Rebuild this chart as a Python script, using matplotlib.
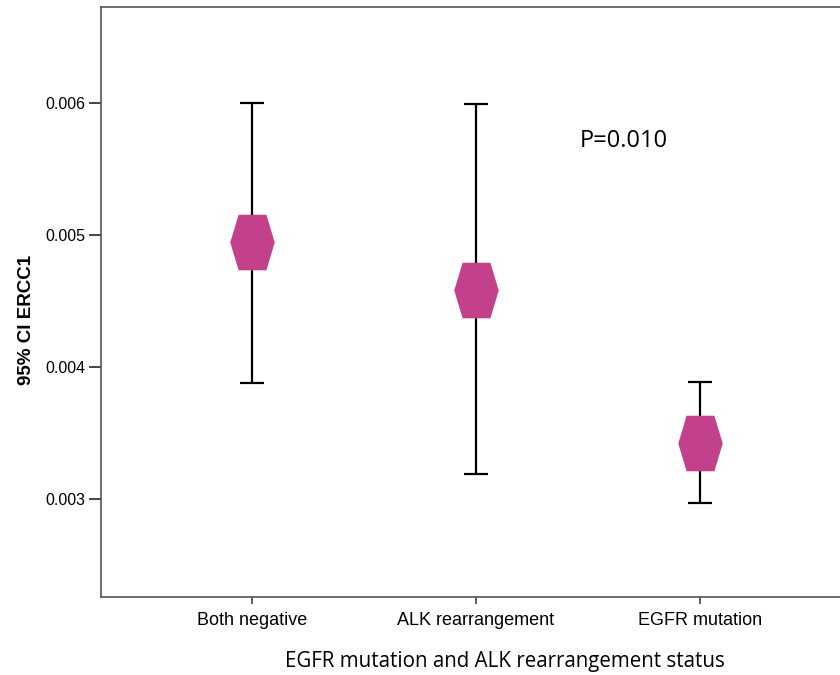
import matplotlib.pyplot as plt
import numpy as np
from matplotlib.path import Path

groups = ["Both negative", "ALK rearrangement", "EGFR mutation"]
means = [0.004947, 0.004583, 0.003424]
lower = [0.003879, 0.003189, 0.002970]
upper = [0.006000, 0.005990, 0.003886]
yticks = [0.003, 0.004, 0.005, 0.006]

x = np.arange(1, len(groups) + 1)
means = np.array(means)
err = [means - np.array(lower), np.array(upper) - means]

# hexagon, flat top/bottom, a bit taller than wide
hexagon = Path([(-0.8, 0), (-0.5, 1), (0.5, 1), (0.8, 0), (0.5, -1), (-0.5, -1), (-0.8, 0)],
               [Path.MOVETO] + [Path.LINETO] * 5 + [Path.CLOSEPOLY])

fig = plt.figure(figsize=(8.4, 6.75), dpi=100)
ax = fig.add_axes([0.1202, 0.1156, 0.8917, 0.874])

ax.errorbar(x, means, yerr=err, fmt="none", ecolor="black", elinewidth=1.6,
            capsize=8.5, capthick=1.6, zorder=2)
ax.plot(x, means, linestyle="none", marker=hexagon, markersize=40,
        color="#C2418A", markeredgewidth=0, zorder=3)

ax.set_xlim(0.326, 3.67)
ax.set_ylim(0.002258, 0.006727)
ax.set_xticks(x)
ax.set_xticklabels(groups, fontsize=13, family="Liberation Sans")
ax.set_yticks(yticks)
ax.set_yticklabels([f"{v:.3f}" for v in yticks], fontsize=11.5, family="Liberation Sans")

for side in ["left", "bottom", "top"]:
    ax.spines[side].set_color("#555555")
    ax.spines[side].set_linewidth(1.2)
ax.spines["right"].set_visible(False)
ax.tick_params(axis="y", length=9, width=1.4, color="#444444", pad=2)
ax.tick_params(axis="x", length=5, width=1.2, color="#444444", pad=6)

ax.set_ylabel("95% CI ERCC1", fontsize=13.5, fontweight="bold", family="Liberation Sans")
ax.yaxis.label.set_va("center")
ax.yaxis.set_label_coords(-0.100, 0.469)
ax.set_xlabel("EGFR mutation and ALK rearrangement status", fontsize=14.8, family="Open Sans")
ax.xaxis.set_label_coords(0.539, -0.092)

ax.text(2.464, 0.00571, "P=0.010", fontsize=17, family="Open Sans", va="center", ha="left")

fig.savefig("out.png", dpi=100)
